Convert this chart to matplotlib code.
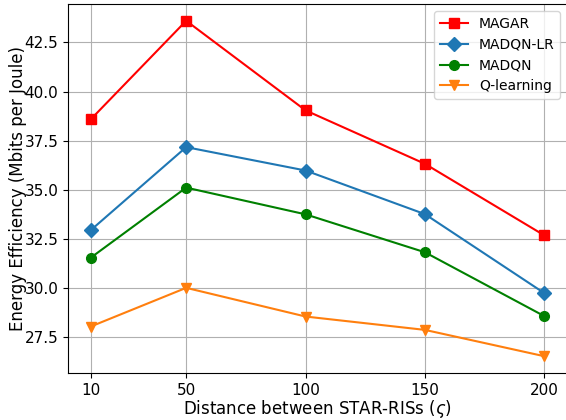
import numpy as np
import matplotlib
matplotlib.use('Agg')
import matplotlib.pyplot as plt

distances = [10, 50, 100, 150, 200]
magar = [38.58, 43.60, 39.04, 36.32, 32.68]
madqn_lr = [32.94, 37.17, 35.98, 33.76, 29.74]
madqn = [31.54, 35.11, 33.75, 31.82, 28.57]
q_learning = [28.04, 30.01, 28.55, 27.87, 26.53]

fig = plt.figure(figsize=(5.66, 4.2), dpi=100)
ax = fig.add_axes([68 / 566, 1 - 373 / 420, 499 / 566, 369 / 420])

ax.plot(distances, magar, color='red', marker='s', markersize=7, label='MAGAR')
ax.plot(distances, madqn_lr, color='#1f77b4', marker='D', markersize=7, label='MADQN-LR')
ax.plot(distances, madqn, color='green', marker='o', markersize=7, label='MADQN')
ax.plot(distances, q_learning, color='#ff7f0e', marker='v', markersize=7, label='Q-learning')

ax.set_xticks(distances)
ax.set_yticks([27.5, 30.0, 32.5, 35.0, 37.5, 40.0, 42.5])
ax.tick_params(axis='both', labelsize=11)
ax.set_xlabel(r'Distance between STAR-RISs ($\varsigma$)', fontsize=12, labelpad=0)
ax.set_ylabel('Energy Efficiency (Mbits per Joule)', fontsize=12, labelpad=-2)
ax.grid(True)
ax.legend(loc='upper right', fontsize=10)

fig.savefig('out.png', dpi=100)
